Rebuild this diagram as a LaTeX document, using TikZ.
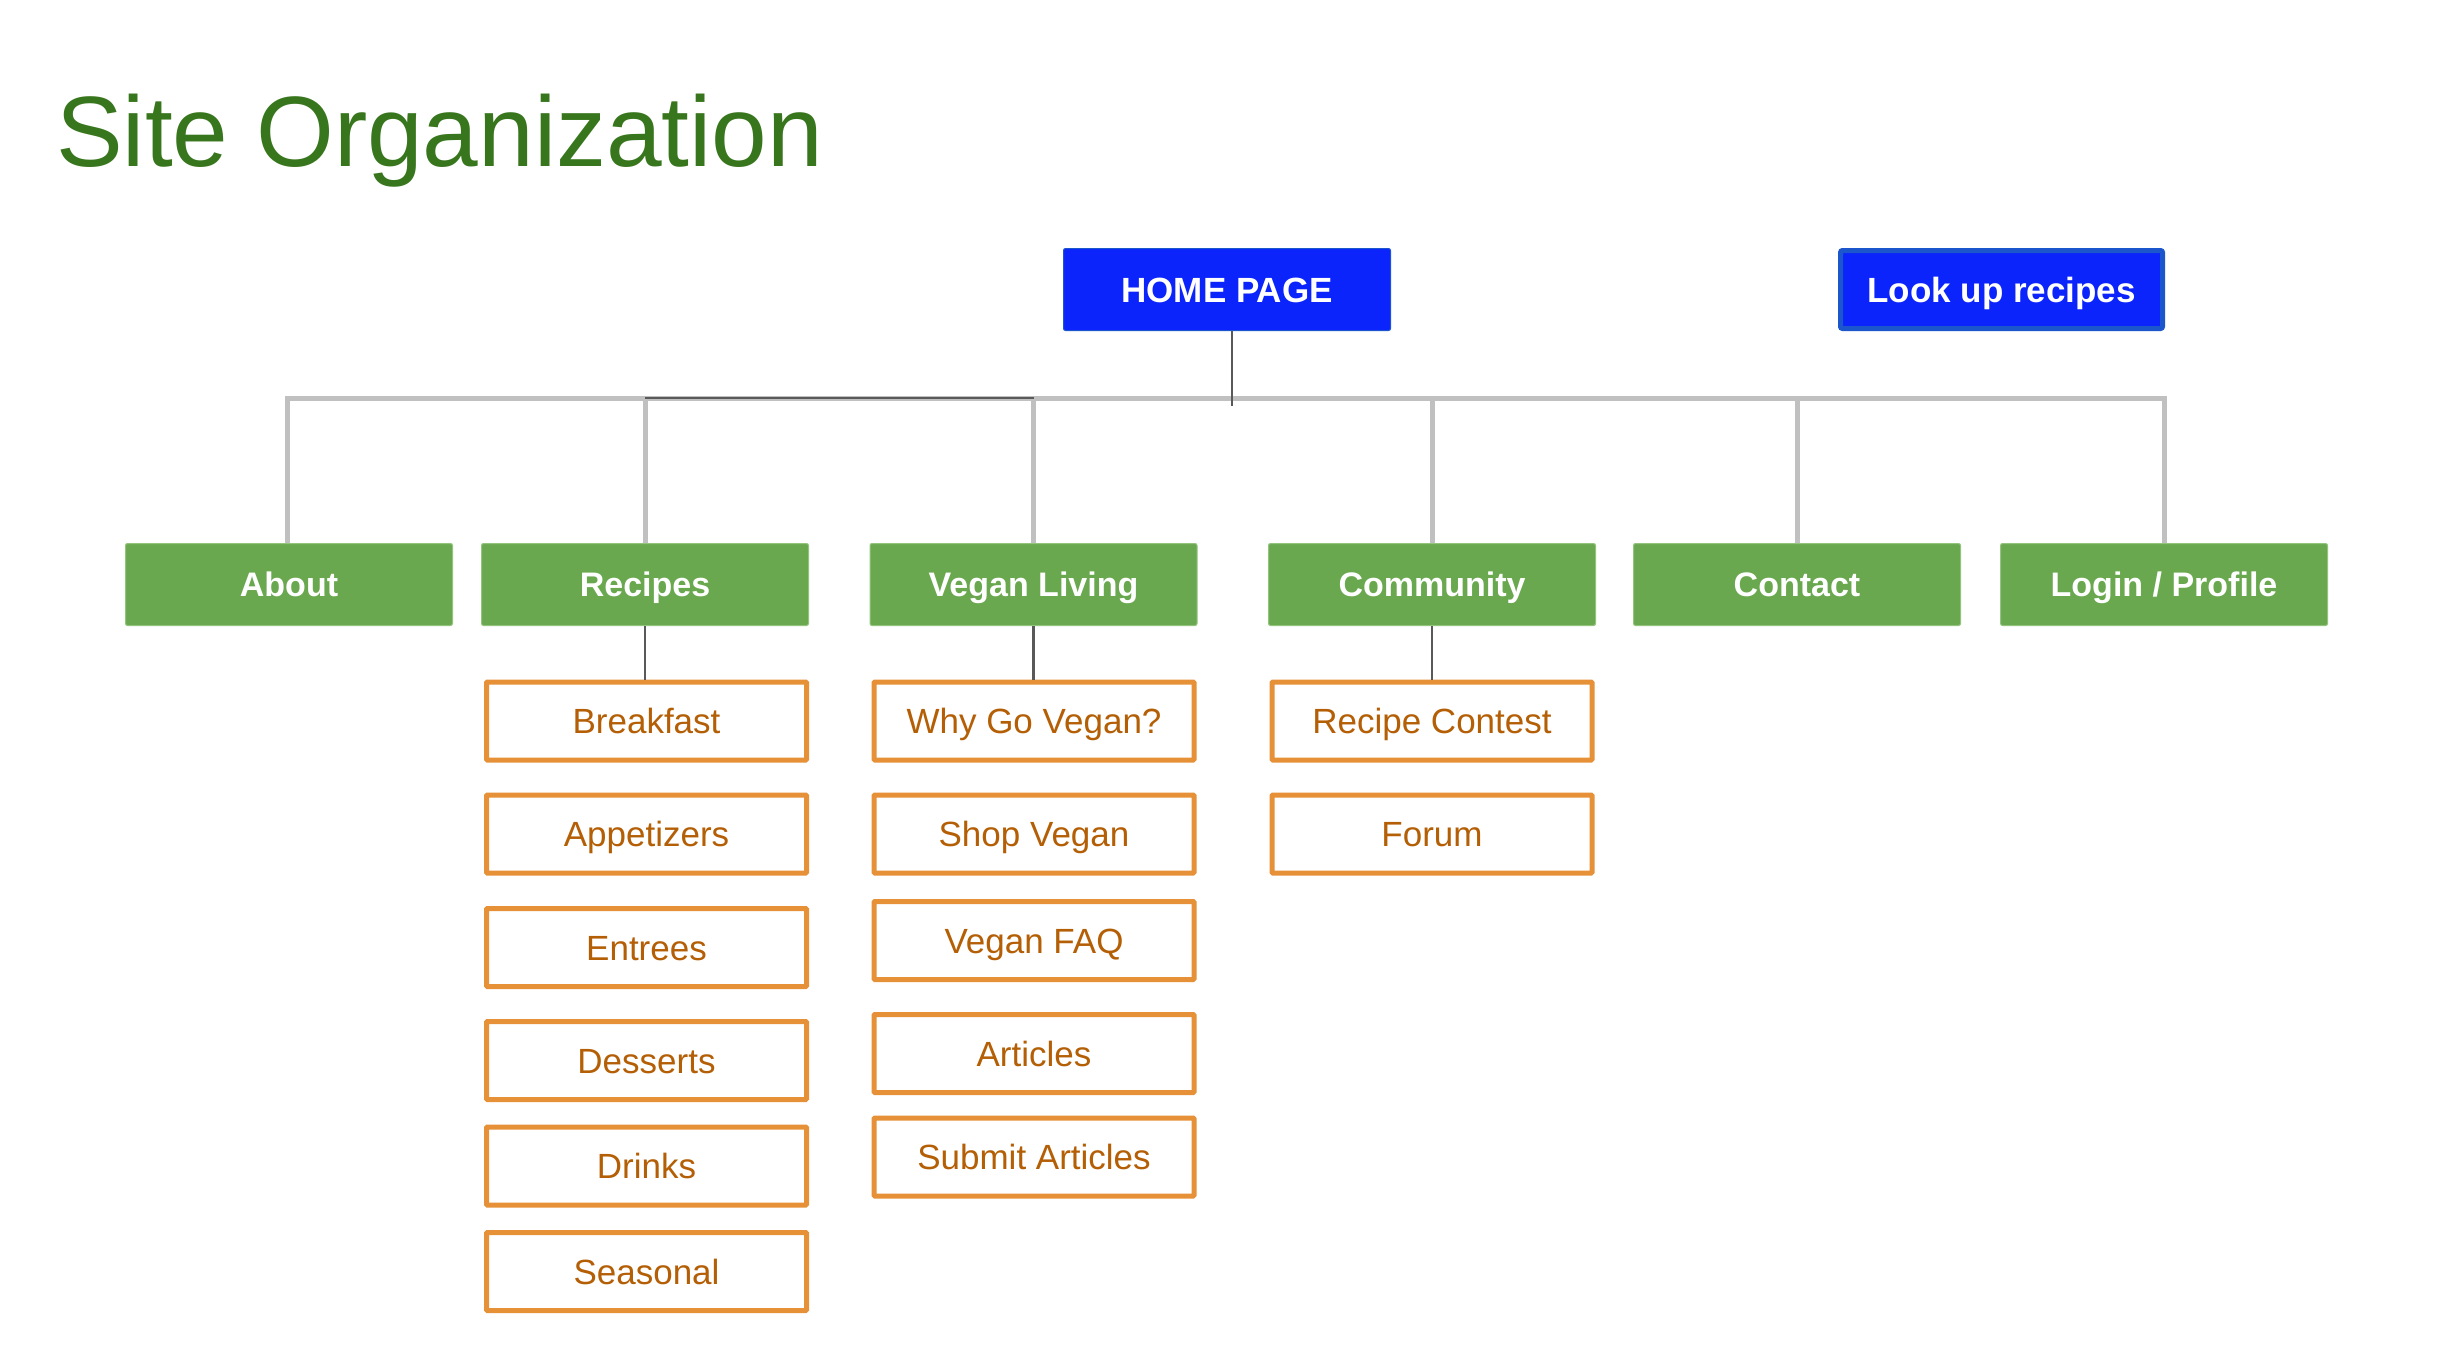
\documentclass[tikz,border=0pt]{standalone}
\usepackage{fontspec}
\setmainfont{Liberation Sans}
\definecolor{titlegreen}{HTML}{38761D}
\definecolor{boxgreen}{HTML}{6AA84F}
\definecolor{boxgreenline}{HTML}{93C47D}
\definecolor{homeblue}{HTML}{0B24FB}
\definecolor{lookborder}{HTML}{1C56CC}
\definecolor{orangeline}{HTML}{E69138}
\definecolor{orangetext}{HTML}{B45F06}
\definecolor{lightgrey}{HTML}{C0C0C0}
\definecolor{darkgrey}{HTML}{595959}
\begin{document}
\begin{tikzpicture}[x=1pt,y=-1pt,
  homebox/.style={fill=homeblue, draw=lookborder, line width=1pt, rounded corners=2pt,
    minimum width=327pt, minimum height=82pt, inner sep=0pt,
    text height=25.1pt, text depth=0pt,
    text=white, font=\fontsize{35}{40}\selectfont\bfseries},
  lookbox/.style={homebox, line width=5pt, minimum width=322pt, minimum height=78pt},
  secbox/.style={fill=boxgreen, draw=boxgreenline, line width=1pt, rounded corners=2pt,
    minimum width=327pt, minimum height=82pt, inner sep=0pt,
    text height=24.3pt, text depth=0pt,
    text=white, font=\fontsize{34}{40}\selectfont\bfseries},
  subbox/.style={fill=white, draw=orangeline, line width=5pt, rounded corners=1pt,
    minimum width=320pt, minimum height=78pt, inner sep=0pt,
    text height=25.1pt, text depth=0pt,
    text=orangetext, font=\fontsize{35}{40}\selectfont},
  busline/.style={draw=lightgrey, line width=5pt},
  darkline/.style={draw=darkgrey, line width=2.5pt}
]
\useasboundingbox[fill=white] (0,0) rectangle (2448,1358);

\node[anchor=base west, text=titlegreen, font=\fontsize{100}{110}\selectfont, inner sep=0pt] (title) at (56,166) {Site Organization};

\node[homebox] (home) at (1227,289.5) {HOME PAGE};
\node[lookbox] (look) at (2001.5,289.5) {Look up recipes};

\node[secbox] (about) at (289,584.5) {About};
\node[secbox] (recipes) at (645,584.5) {Recipes};
\node[secbox] (vegan) at (1033.5,584.5) {Vegan Living};
\node[secbox] (community) at (1432,584.5) {Community};
\node[secbox] (contact) at (1797,584.5) {Contact};
\node[secbox] (login) at (2164,584.5) {Login / Profile};

% Recipes column
\node[subbox] (breakfast) at (646.5,721) {Breakfast};
\node[subbox] (appetizers) at (646.5,834) {Appetizers};
\node[subbox] (entrees) at (646.5,947.5) {Entrees};
\node[subbox] (desserts) at (646.5,1060.5) {Desserts};
\node[subbox] (drinks) at (646.5,1166) {Drinks};
\node[subbox] (seasonal) at (646.5,1271.5) {Seasonal};

% Vegan Living column
\node[subbox] (why) at (1034,721) {Why Go Vegan?};
\node[subbox] (shop) at (1034,834) {Shop Vegan};
\node[subbox] (faq) at (1034,940.5) {Vegan FAQ};
\node[subbox] (articles) at (1034,1053.5) {Articles};
\node[subbox] (submit) at (1034,1157) {Submit Articles};

% Community column
\node[subbox] (contest) at (1432,721) {Recipe Contest};
\node[subbox] (forum) at (1432,834) {Forum};

% bus
\coordinate (bus) at (1232,398);
\coordinate (busend) at (1232,406);

\draw[busline] ([xshift=-2pt]about.north) |- (bus) -| (login.north);
\draw[busline] (recipes.north) -- (recipes.north |- bus);
\draw[busline] (vegan.north) -- (vegan.north |- bus);
\draw[busline] (community.north) -- (community.north |- bus);
\draw[busline] (contact.north) -- (contact.north |- bus);

\draw[darkline] (recipes.north |- bus) -- (vegan.north |- bus);
\draw[darkline] (home.south -| bus) -- (busend);

\draw[darkline] (recipes.south) -- (recipes.south |- breakfast.north);
\draw[darkline] (vegan.south) -- (vegan.south |- why.north);
\draw[darkline] (community.south) -- (community.south |- contest.north);
\end{tikzpicture}
\end{document}
